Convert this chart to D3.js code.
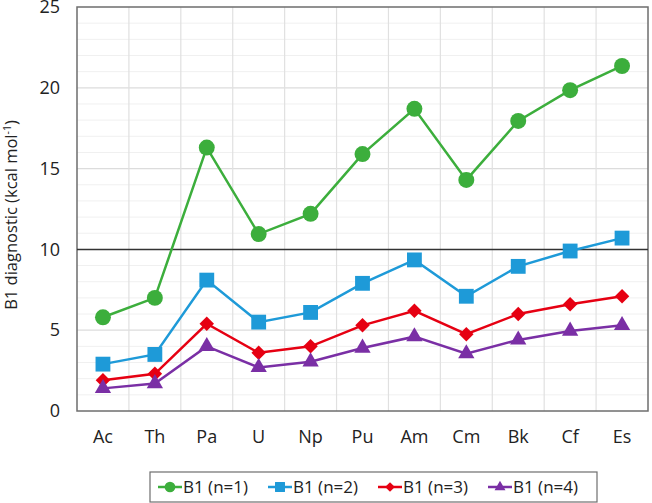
<!DOCTYPE html>
<html>
<head>
<meta charset="utf-8">
<script src="https://cdn.jsdelivr.net/npm/d3@7"></script>
<style>
  body { margin: 0; background: #fff; }
  svg { display: block; font-family: "Open Sans", "Noto Sans", sans-serif; }
</style>
</head>
<body>
<svg id="chart" width="652" height="503"></svg>
<script>
// categories and series values
var elements = ['Ac', 'Th', 'Pa', 'U', 'Np', 'Pu', 'Am', 'Cm', 'Bk', 'Cf', 'Es'];
var n1 = [5.8, 7.0, 16.3, 10.95, 12.2, 15.9, 18.7, 14.3, 17.95, 19.85, 21.35];
var n2 = [2.9, 3.5, 8.1, 5.5, 6.1, 7.9, 9.35, 7.1, 8.95, 9.9, 10.7];
var n3 = [1.9, 2.3, 5.4, 3.6, 4.0, 5.3, 6.2, 4.75, 6.0, 6.6, 7.1];
var n4 = [1.4, 1.7, 4.0, 2.7, 3.05, 3.9, 4.6, 3.55, 4.4, 4.95, 5.3];
var seriesNames = ['B1 (n=1)', 'B1 (n=2)', 'B1 (n=3)', 'B1 (n=4)'];
var yTicks = [0, 5, 10, 15, 20, 25];

var series = [
    { name: seriesNames[0], values: n1, color: '#3cae3c', symbol: d3.symbolCircle, size: 200, rot: 0 },
    { name: seriesNames[1], values: n2, color: '#1e9ad8', symbol: d3.symbolSquare, size: 220, rot: 0 },
    { name: seriesNames[2], values: n3, color: '#e60012', symbol: d3.symbolSquare, size: 105, rot: 45 },
    { name: seriesNames[3], values: n4, color: '#7a2fa5', symbol: d3.symbolTriangle, size: 115, rot: 0 }
];

var svg = d3.select('#chart');
// plot area edges (not named "top": that is window.top)
var pLeft = 77, pRight = 648, pTop = 7, pBottom = 411;

var x = d3.scaleBand().domain(elements).range([pLeft, pRight]);
var y = d3.scaleLinear().domain([0, 25]).range([pBottom, pTop]);

// minor gridlines every unit
svg.append('g').selectAll('line')
    .data(d3.range(1, 25).filter(function(v) { return v % 5 !== 0; }))
    .enter().append('line')
    .attr('x1', pLeft).attr('x2', pRight)
    .attr('y1', function(d) { return y(d); }).attr('y2', function(d) { return y(d); })
    .attr('stroke', '#f0f0f0').attr('stroke-width', 1);

// major gridlines
svg.append('g').selectAll('line')
    .data([5, 15, 20])
    .enter().append('line')
    .attr('x1', pLeft).attr('x2', pRight)
    .attr('y1', function(d) { return y(d); }).attr('y2', function(d) { return y(d); })
    .attr('stroke', '#dcdcdc').attr('stroke-width', 1.2);

// vertical gridlines between categories
svg.append('g').selectAll('line')
    .data(elements.slice(1))
    .enter().append('line')
    .attr('x1', function(d) { return x(d); }).attr('x2', function(d) { return x(d); })
    .attr('y1', pTop).attr('y2', pBottom)
    .attr('stroke', '#e0e0e0').attr('stroke-width', 1.2);

// plot border and the dark line at 10
svg.append('rect')
    .attr('x', pLeft).attr('y', pTop)
    .attr('width', pRight - pLeft).attr('height', pBottom - pTop)
    .attr('fill', 'none').attr('stroke', '#6e6e6e').attr('stroke-width', 1.5);
svg.append('line')
    .attr('x1', pLeft).attr('x2', pRight)
    .attr('y1', y(10)).attr('y2', y(10))
    .attr('stroke', '#333').attr('stroke-width', 1.5);

// y axis labels
var yAxis = d3.axisLeft(y).tickValues(yTicks).tickSize(0).tickPadding(17);
var gy = svg.append('g').attr('transform', 'translate(' + pLeft + ',0)').call(yAxis);
gy.select('.domain').remove();
gy.selectAll('text').attr('font-size', 18).attr('fill', '#222')
    .attr('font-family', '"Open Sans", sans-serif');

// x axis labels
var xAxis = d3.axisBottom(x).tickSize(0).tickPadding(19);
var gx = svg.append('g').attr('transform', 'translate(0,' + pBottom + ')').call(xAxis);
gx.select('.domain').remove();
gx.selectAll('text').attr('font-size', 18).attr('fill', '#222')
    .attr('font-family', '"Open Sans", sans-serif');

// y axis title
var title = svg.append('text')
    .attr('transform', 'translate(17,215) rotate(-90)')
    .attr('text-anchor', 'middle')
    .attr('font-size', 16.5).attr('fill', '#222');
title.append('tspan').text('B1 diagnostic (kcal mol');
title.append('tspan').attr('font-size', 10.5).attr('dy', -6).text('-1');
title.append('tspan').attr('dy', 6).text(')');

var line = d3.line()
    .x(function(d, i) { return x(elements[i]) + x.bandwidth() / 2; })
    .y(function(d) { return y(d); });

series.forEach(function(s) {
    var g = svg.append('g');
    g.append('path')
        .attr('d', line(s.values))
        .attr('fill', 'none')
        .attr('stroke', s.color)
        .attr('stroke-width', 2.5);
    g.selectAll('path.pt')
        .data(s.values)
        .enter().append('path')
        .attr('class', 'pt')
        .attr('transform', function(d, i) {
            return 'translate(' + (x(elements[i]) + x.bandwidth() / 2) + ',' + y(d) + ') rotate(' + s.rot + ')';
        })
        .attr('d', d3.symbol().type(s.symbol).size(s.size))
        .attr('fill', s.color);
});

// legend
var legend = svg.append('g');
legend.append('rect')
    .attr('x', 150).attr('y', 472).attr('width', 447).attr('height', 30)
    .attr('fill', '#fff').attr('stroke', '#6e6e6e').attr('stroke-width', 1.2);
var legendX = [158, 268, 378, 488];
series.forEach(function(s, i) {
    var lx = legendX[i], ly = 487;
    legend.append('line')
        .attr('x1', lx).attr('x2', lx + 24).attr('y1', ly).attr('y2', ly)
        .attr('stroke', s.color).attr('stroke-width', 2.5);
    legend.append('path')
        .attr('transform', 'translate(' + (lx + 12) + ',' + ly + ') rotate(' + s.rot + ')')
        .attr('d', d3.symbol().type(s.symbol).size(s.size * 0.45))
        .attr('fill', s.color);
    legend.append('text')
        .attr('x', lx + 25).attr('y', ly + 6)
        .attr('font-size', 17).attr('fill', '#222')
        .text(s.name);
});
</script>
</body>
</html>
